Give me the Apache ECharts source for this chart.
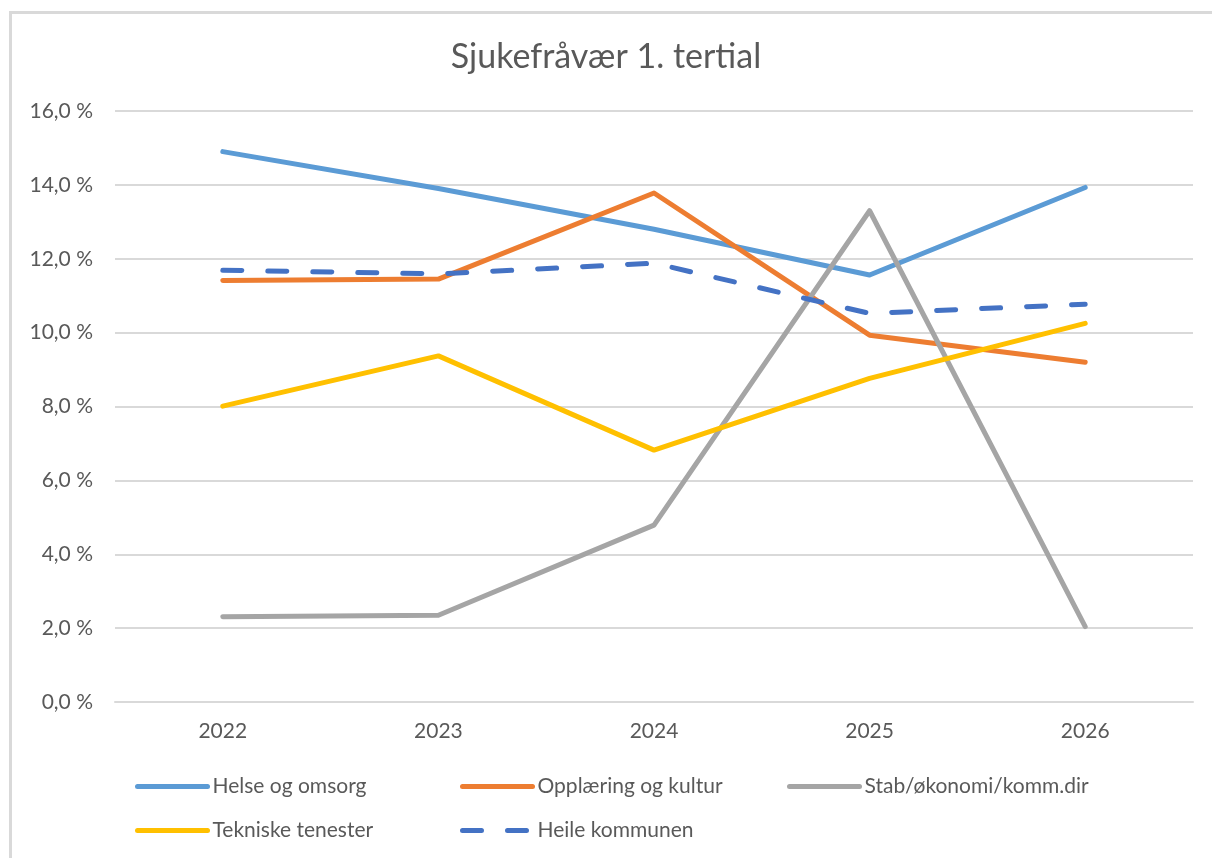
<!DOCTYPE html>
<html>
<head>
<meta charset="utf-8">
<script src="https://cdn.jsdelivr.net/npm/echarts@6/dist/echarts.min.js"></script>
<style>
  html, body { margin: 0; padding: 0; background: #fff; }
  #frame { position: absolute; left: 9px; top: 11px; width: 1300px; height: 900px;
           border-left: 3px solid #d9d9d9; border-top: 3px solid #d9d9d9; }
  #main { position: absolute; left: 0; top: 0; width: 1212px; height: 858px; }
</style>
</head>
<body>
<div id="frame"></div>
<div id="main"></div>
<script>
// år
var years = ['2022', '2023', '2024', '2025', '2026'];

// sjukefråvær i prosent
var helse = [14.9, 13.9, 12.8, 11.56, 13.93];
var opplaering = [11.41, 11.45, 13.78, 9.93, 9.2];
var stab = [2.31, 2.35, 4.79, 13.3, 2.04];
var tekniske = [8.01, 9.37, 6.82, 8.76, 10.25];
var heile = [11.69, 11.59, 11.88, 10.52, 10.77];

var font = 'Lato, "Open Sans", sans-serif';
var grey = '#595959';

function serie(name, data, color, dashed) {
    return {
        name: name,
        type: 'line',
        data: data,
        symbol: 'none',
        lineStyle: {
            color: color,
            width: 5,
            cap: 'round',
            join: 'round',
            type: dashed ? [19, 26] : 'solid'
        },
        itemStyle: { color: color }
    };
}

// ein legend per element, så kolonnane står likt
function legendItem(name, left, top) {
    return {
        data: [name],
        left: left,
        top: top,
        itemWidth: 70,
        itemHeight: 14,
        itemStyle: { opacity: 0 },
        lineStyle: { width: 5, cap: 'round' },
        textStyle: { fontFamily: font, fontSize: 21, color: grey }
    };
}

var myChart = echarts.init(document.getElementById('main'));
myChart.setOption({
    animation: false,
    title: {
        text: 'Sjukefråvær 1. tertial',
        left: 'center',
        top: 35,
        textStyle: { fontFamily: font, fontSize: 34, fontWeight: 'normal', color: grey }
    },
    legend: [
        legendItem('Helse og omsorg', 130, 771),
        legendItem('Opplæring og kultur', 455, 771),
        legendItem('Stab/økonomi/komm.dir', 782, 771),
        legendItem('Tekniske tenester', 130, 815),
        legendItem('Heile kommunen', 455, 815)
    ],
    grid: {
        left: 115,
        right: 19,
        top: 111,
        bottom: 156
    },
    xAxis: {
        type: 'category',
        data: years,
        boundaryGap: true,
        axisLine: { show: true, lineStyle: { color: '#d9d9d9', width: 2 } },
        axisTick: { show: false },
        axisLabel: { fontFamily: font, fontSize: 21, color: grey, margin: 19 }
    },
    yAxis: {
        type: 'value',
        min: 0,
        max: 16,
        interval: 2,
        axisLine: { show: false },
        axisTick: { show: false },
        splitLine: { lineStyle: { color: '#d9d9d9', width: 2 } },
        axisLabel: {
            fontFamily: font, fontSize: 21, color: grey, margin: 22,
            formatter: function (v) { return v.toFixed(1).replace('.', ',') + ' %'; }
        }
    },
    series: [
        serie('Helse og omsorg', helse, '#5b9bd5'),
        serie('Opplæring og kultur', opplaering, '#ed7d31'),
        serie('Stab/økonomi/komm.dir', stab, '#a5a5a5'),
        serie('Tekniske tenester', tekniske, '#ffc000'),
        serie('Heile kommunen', heile, '#4472c4', true)
    ]
});
</script>
</body>
</html>
